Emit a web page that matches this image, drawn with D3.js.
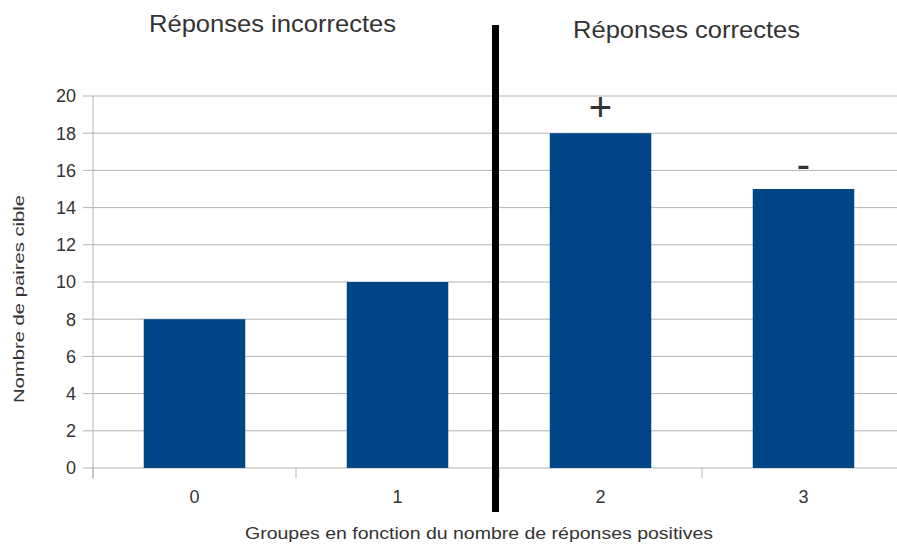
<!DOCTYPE html>
<html>
<head>
<meta charset="utf-8">
<script src="https://cdn.jsdelivr.net/npm/d3@7"></script>
<style>
  body { margin: 0; background: #fff; }
  text { font-family: "Liberation Sans", Arial, sans-serif; fill: #333; }
</style>
</head>
<body>
<div id="chart"></div>
<script>
var categories = ["0", "1", "2", "3"];
var values = [8, 10, 18, 15];
var yTicks = [0, 2, 4, 6, 8, 10, 12, 14, 16, 18, 20];
var groupTitles = ["Réponses incorrectes", "Réponses correctes"];
var markers = [{ cat: "2", text: "+" }, { cat: "3", text: "-" }];

var width = 897, height = 544;
var plotLeft = 93, plotRight = 905, plotTop = 96, plotBottom = 468;

var svg = d3.select("#chart").append("svg")
  .attr("width", width)
  .attr("height", height);

var x = d3.scaleBand().domain(categories).range([plotLeft, plotRight])
  .paddingInner(0.5).paddingOuter(0.25);
var y = d3.scaleLinear().domain([0, 20]).range([plotBottom, plotTop]);

// grid lines + y labels
var gy = svg.append("g");
gy.selectAll("line").data(yTicks).enter().append("line")
  .attr("x1", plotLeft - 10).attr("x2", plotRight)
  .attr("y1", function(d) { return y(d); })
  .attr("y2", function(d) { return y(d); })
  .attr("stroke", "#b3b3b3").attr("stroke-width", 1);
gy.selectAll("text").data(yTicks).enter().append("text")
  .attr("x", plotLeft - 17)
  .attr("y", function(d) { return y(d); })
  .attr("dy", "0.36em")
  .attr("text-anchor", "end")
  .style("font-size", "18px")
  .text(function(d) { return d; });

// y axis line
svg.append("line")
  .attr("x1", plotLeft).attr("x2", plotLeft)
  .attr("y1", plotTop).attr("y2", plotBottom + 10)
  .attr("stroke", "#b3b3b3");

// x ticks at band boundaries
var step = x.step();
var bounds = d3.range(categories.length + 1).map(function(i) { return plotLeft + i * step; });
svg.append("g").selectAll("line").data(bounds).enter().append("line")
  .attr("x1", function(d) { return d; }).attr("x2", function(d) { return d; })
  .attr("y1", plotBottom).attr("y2", plotBottom + 10)
  .attr("stroke", "#b3b3b3");

svg.append("g").selectAll("text").data(categories).enter().append("text")
  .attr("x", function(d) { return x(d) + x.bandwidth() / 2; })
  .attr("y", 503)
  .attr("text-anchor", "middle")
  .style("font-size", "18px")
  .text(function(d) { return d; });

// bars
svg.append("g").selectAll("rect").data(values).enter().append("rect")
  .attr("x", function(d, i) { return x(categories[i]); })
  .attr("y", function(d) { return y(d); })
  .attr("width", x.bandwidth())
  .attr("height", function(d) { return y(0) - y(d); })
  .attr("fill", "#004586");

// markers above bars
svg.append("g").selectAll("text").data(markers).enter().append("text")
  .attr("x", function(d) { return x(d.cat) + x.bandwidth() / 2; })
  .attr("y", function(d, i) { return i === 0 ? 121 : 178; })
  .attr("text-anchor", "middle")
  .style("font-size", "40px")
  .text(function(d) { return d.text; });

// separator
svg.append("rect")
  .attr("x", 492).attr("y", 25)
  .attr("width", 7).attr("height", 487)
  .attr("fill", "#000");

// group titles
svg.append("text").attr("x", 149).attr("y", 32)
  .attr("textLength", 247).attr("lengthAdjust", "spacingAndGlyphs")
  .style("font-size", "24px").text(groupTitles[0]);
svg.append("text").attr("x", 573).attr("y", 38)
  .attr("textLength", 227).attr("lengthAdjust", "spacingAndGlyphs")
  .style("font-size", "24px").text(groupTitles[1]);

// axis titles
svg.append("text")
  .attr("transform", "translate(24,403) rotate(-90)")
  .attr("textLength", 208).attr("lengthAdjust", "spacingAndGlyphs")
  .style("font-size", "15px")
  .text("Nombre de paires cible");
svg.append("text")
  .attr("x", 245).attr("y", 539)
  .attr("textLength", 468).attr("lengthAdjust", "spacingAndGlyphs")
  .style("font-size", "16px")
  .text("Groupes en fonction du nombre de réponses positives");
</script>
</body>
</html>
